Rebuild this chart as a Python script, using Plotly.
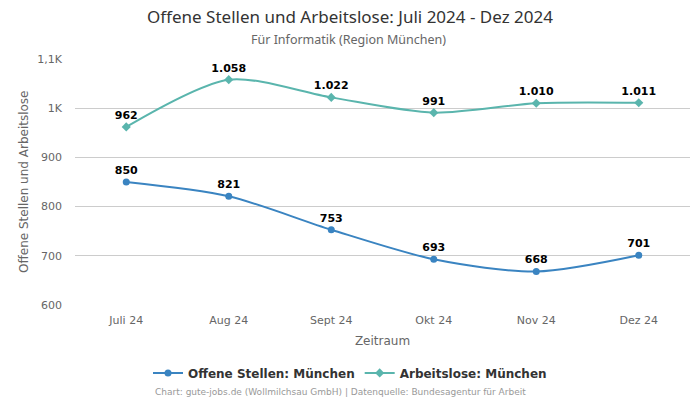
import plotly.graph_objects as go

categories = ["Juli 24", "Aug 24", "Sept 24", "Okt 24", "Nov 24", "Dez 24"]
offene_stellen = [850, 821, 753, 693, 668, 701]
arbeitslose = [962, 1058, 1022, 991, 1010, 1011]
tick_vals = [600, 700, 800, 900, 1000, 1100]
tick_text = ["600", "700", "800", "900", "1K", "1,1K"]

def fmt(v):
    return f"{v:,}".replace(",", ".")

fig = go.Figure()
fig.add_trace(go.Scatter(
    x=categories, y=offene_stellen, name="Offene Stellen: München",
    mode="lines+markers+text", line=dict(color="#3a84c1", width=2, shape="spline", smoothing=0.8),
    marker=dict(symbol="circle", size=7, color="#3a84c1"),
    text=[fmt(v) for v in offene_stellen], textposition="top center",
    textfont=dict(family="DejaVu Sans", size=11, color="#000000", weight="bold"),
))
fig.add_trace(go.Scatter(
    x=categories, y=arbeitslose, name="Arbeitslose: München",
    mode="lines+markers+text", line=dict(color="#5ab5ad", width=2, shape="spline", smoothing=0.8),
    marker=dict(symbol="diamond", size=7, color="#5ab5ad"),
    text=[fmt(v) for v in arbeitslose], textposition="top center",
    textfont=dict(family="DejaVu Sans", size=11, color="#000000", weight="bold"),
))

fig.update_layout(
    width=700, height=400,
    margin=dict(l=75, r=10, t=59, b=95, autoexpand=False),
    paper_bgcolor="white", plot_bgcolor="white",
    font=dict(family="DejaVu Sans", color="#666666", size=11),
    title=dict(text="Offene Stellen und Arbeitslose: Juli 2024 - Dez 2024",
               x=0.5, xanchor="center", y=0.9725, yanchor="top",
               font=dict(family="Noto Sans", size=17, color="#333333")),
    xaxis=dict(title=dict(text="Zeitraum", font=dict(size=12, color="#666666"), standoff=10),
               showgrid=False, showline=False, ticks="", range=[-0.5, 5.5], automargin=False,
               ticklabelstandoff=7,
               tickfont=dict(size=11, color="#666666")),
    yaxis=dict(range=[600, 1100], tickvals=tick_vals, ticktext=tick_text, automargin=False,
               showgrid=True, gridcolor="#cccccc", zeroline=False, showline=False,
               ticklabelstandoff=12,
               tickfont=dict(size=11, color="#666666")),
    legend=dict(orientation="h", xref="container", x=0.5, xanchor="center",
                y=-0.276, yanchor="middle", itemwidth=30,
                font=dict(size=12, color="#333333", weight="bold")),
    showlegend=True,
)
fig.add_annotation(text="Für Informatik (Region München)", xref="paper", yref="paper",
                   x=0.4455, y=1.0, yshift=20, showarrow=False, xanchor="center", yanchor="middle",
                   font=dict(family="Noto Sans", size=12.5, color="#666666"))
fig.add_annotation(text="Offene Stellen und Arbeitslose", xref="paper", yref="paper",
                   x=-0.083, y=0.5, textangle=-90, showarrow=False,
                   xanchor="center", yanchor="middle",
                   font=dict(size=12, color="#666666"))
fig.add_annotation(text="Chart: gute-jobs.de (Wollmilchsau GmbH) | Datenquelle: Bundesagentur für Arbeit",
                   xref="paper", yref="paper", x=0.431, y=-0.354, showarrow=False,
                   xanchor="center", yanchor="middle",
                   font=dict(size=9, color="#999999"))
fig.write_html("out.html", post_script="document.body.style.margin='0';",
               config={"displayModeBar": False})
